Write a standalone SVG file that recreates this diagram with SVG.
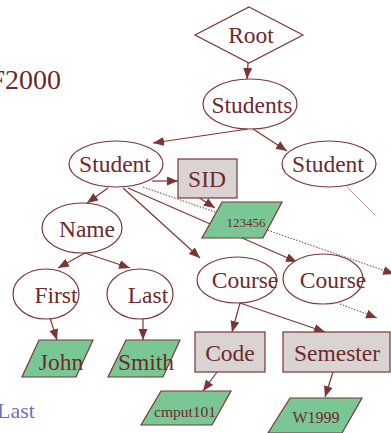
<svg xmlns="http://www.w3.org/2000/svg" width="391" height="433" viewBox="0 0 391 433">
<style>
.n{fill:#fff;stroke:#7b3535;stroke-width:1.2}
.b{fill:#d9d3d1;stroke:#7b3535;stroke-width:1.2}
.g{fill:#7ac796;stroke:#7b3535;stroke-width:1.2}
.t{font-family:"Liberation Serif",serif;font-size:23.5px;fill:#6e2a2c;text-anchor:middle}
.s{font-family:"Liberation Serif",serif;fill:#6e2a2c;text-anchor:middle}
.e{stroke:#7b3535;stroke-width:1.2;fill:none}
.d{stroke:#7b3535;stroke-width:1;fill:none;stroke-dasharray:1.5,1.5}
.f{stroke:#a87a7a;stroke-width:0.8;fill:none}
</style>
<defs>
<marker id="a" markerWidth="12" markerHeight="10" refX="11" refY="4.5" orient="auto" markerUnits="userSpaceOnUse">
<path d="M0,0 L11,4.5 L0,9 z" fill="#7b3535"/>
</marker>
</defs>
<text x="61" y="89" font-family="Liberation Serif,serif" font-size="28" fill="#6e2a2c" text-anchor="end">F2000</text>
<text x="35" y="418" font-family="Liberation Serif,serif" font-size="22" fill="#7070b8" text-anchor="end">Last</text>
<g id="connectors">
<line class="e" x1="248" y1="63" x2="247" y2="79" marker-end="url(#a)"/>
<line class="e" x1="248" y1="129" x2="153" y2="143" marker-end="url(#a)"/>
<line class="e" x1="253" y1="129" x2="287" y2="151" marker-end="url(#a)"/>
<line class="e" x1="152" y1="181" x2="178" y2="181" marker-end="url(#a)"/>
<line class="e" x1="195" y1="195" x2="215" y2="208" marker-end="url(#a)"/>
<line class="e" x1="108" y1="188" x2="87" y2="203" marker-end="url(#a)"/>
<line class="e" x1="123" y1="188" x2="200" y2="258" marker-end="url(#a)"/>
<line class="e" x1="128" y1="188" x2="297" y2="262" marker-end="url(#a)"/>
<line class="d" x1="143" y1="187" x2="394" y2="274" marker-end="url(#a)"/>
<line class="f" x1="347" y1="187" x2="375" y2="215"/>
<line class="e" x1="85" y1="253" x2="58" y2="268" marker-end="url(#a)"/>
<line class="e" x1="85" y1="253" x2="130" y2="268" marker-end="url(#a)"/>
<line class="e" x1="50" y1="318" x2="57" y2="340" marker-end="url(#a)"/>
<line class="e" x1="143" y1="318" x2="143" y2="340" marker-end="url(#a)"/>
<line class="e" x1="240" y1="303" x2="232" y2="332" marker-end="url(#a)"/>
<line class="e" x1="240" y1="303" x2="325" y2="332" marker-end="url(#a)"/>
<line class="d" x1="340" y1="304" x2="377" y2="318" marker-end="url(#a)"/>
<line class="e" x1="217" y1="372" x2="203" y2="391" marker-end="url(#a)"/>
<line class="e" x1="333" y1="372" x2="325" y2="397" marker-end="url(#a)"/>
</g>
<g id="root"><polygon class="n" points="249,7 303,35 249,63 195,35"/><text class="t" x="251" y="43" font-size="26">Root</text></g>
<g id="students"><ellipse class="n" cx="250" cy="104" rx="47" ry="25"/><text class="t" x="252" y="113">Students</text></g>
<g id="student1"><ellipse class="n" cx="116" cy="164" rx="47" ry="23"/><text class="t" x="115" y="172">Student</text></g>
<g id="student2"><ellipse class="n" cx="329" cy="164" rx="47" ry="23"/><text class="t" x="328" y="172">Student</text></g>
<g id="sid"><rect class="b" x="178" y="159" width="59" height="39"/><text class="t" x="207" y="187">SID</text></g>
<g id="v123456"><polygon class="g" points="222,202 282,202 263,238 202,238"/><text class="s" x="246" y="227" font-size="13">123456</text></g>
<g id="name"><ellipse class="n" cx="82" cy="228" rx="40" ry="25"/><text class="t" x="87" y="237">Name</text></g>
<g id="first"><ellipse class="n" cx="46" cy="294" rx="33" ry="25"/><text class="t" x="56" y="303">First</text></g>
<g id="last"><ellipse class="n" cx="140" cy="294" rx="33" ry="25"/><text class="t" x="148" y="303">Last</text></g>
<g id="john"><polygon class="g" points="39,340 93,340 76,377 22,377"/><text class="t" x="61" y="370">John</text></g>
<g id="smith"><polygon class="g" points="126,340 180,340 163,377 108,377"/><text class="t" x="146" y="370">Smith</text></g>
<g id="course1"><ellipse class="n" cx="237" cy="280" rx="40" ry="23"/><text class="t" x="245" y="288">Course</text></g>
<g id="course2"><ellipse class="n" cx="323" cy="279" rx="40" ry="25"/><text class="t" x="333" y="288">Course</text></g>
<g id="code"><rect class="b" x="195" y="332" width="70" height="40"/><text class="t" x="230" y="361">Code</text></g>
<g id="semester"><rect class="b" x="283" y="332" width="107" height="40"/><text class="t" x="337" y="361">Semester</text></g>
<g id="cmput101"><polygon class="g" points="161,391 231,391 212,425 141,425"/><text class="s" x="185" y="417" font-size="15.5">cmput101</text></g>
<g id="w1999"><polygon class="g" points="290,398 362,398 342,433 268,433"/><text class="s" x="316" y="423" font-size="16">W1999</text></g>
</svg>
